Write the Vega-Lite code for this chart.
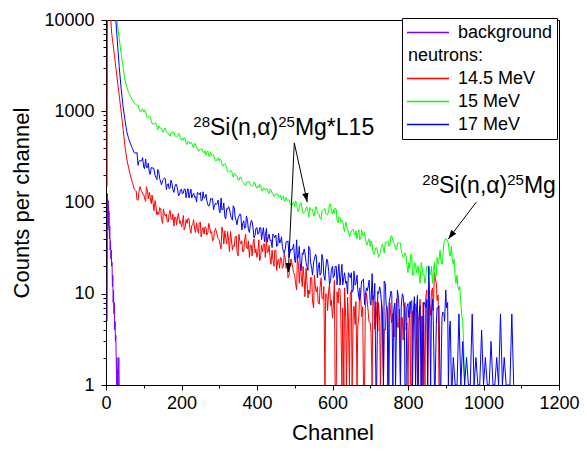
{
"$schema": "https://vega.github.io/schema/vega-lite/v6.json",
"width": 453, "height": 365, "autosize": "none",
"padding": {"left": 106, "top": 20, "right": 28, "bottom": 68},
"background": "white",
"config": {
 "font": "Liberation Sans",
 "view": {"stroke": "black", "strokeWidth": 1},
 "axis": {"grid": false, "domainColor": "black", "tickColor": "black", "labelColor": "black", "titleColor": "black", "labelFont": "Liberation Sans", "titleFont": "Liberation Sans", "labelFontSize": 18, "titleFontSize": 22, "titleFontWeight": "normal", "tickWidth": 1, "domainWidth": 1, "labelOverlap": false, "labelFlush": false}
},
"datasets": {
"spec": [
{"c":3,"p":5,"r":150},{"c":4,"p":125,"r":30000},{"c":5,"p":50,"r":30000,"g":30000,"b":30000},{"c":6,"p":105},{"c":7,"p":55},{"c":8,"p":80},{"c":9,"p":40},
{"c":10,"p":55,"r":15000,"g":30000,"b":30000},{"c":11,"p":30},{"c":12,"p":38},{"c":13,"p":24},{"c":14,"p":30},
{"c":15,"p":20,"r":7200,"g":30000,"b":30000},{"c":16,"p":22},{"c":17,"p":12},{"c":18,"p":16},{"c":19,"p":8},
{"c":20,"p":11,"r":4900,"g":25000,"b":22000},{"c":21,"p":6},{"c":22,"p":8},{"c":23,"p":4},{"c":24,"p":5},
{"c":25,"p":3,"r":3300,"g":14000,"b":11500},{"c":26,"p":3.5},{"c":27,"p":2},{"c":28,"p":1},{"c":29,"p":2},
{"c":30,"p":1,"r":2200,"g":9300,"b":5900},{"c":31,"p":1.5},{"c":32,"p":1},{"c":34,"p":2},
{"c":35,"p":1,"r":1500,"g":6300,"b":3100},
{"c":40,"r":1000,"g":4300,"b":1780},{"c":45,"r":650,"g":3100,"b":1150},{"c":50,"r":420,"g":2200,"b":810},{"c":55,"r":300,"g":1850,"b":600},
{"c":60,"r":240,"g":1600,"b":500},{"c":65,"r":195,"g":1450,"b":440},{"c":70,"r":165,"g":1320,"b":390},{"c":75,"r":140,"g":1230,"b":350},
{"c":80,"r":134,"g":1179,"b":348},{"c":85,"r":106,"g":1174,"b":255},{"c":90,"r":149,"g":995,"b":291},{"c":95,"r":131,"g":1046,"b":290},
{"c":100,"r":122,"g":976,"b":243},{"c":105,"r":103,"g":984,"b":300},{"c":110,"r":133,"g":841,"b":242},{"c":115,"r":129,"g":896,"b":209},
{"c":120,"r":97,"g":790,"b":242},{"c":125,"r":97,"g":725,"b":240},{"c":130,"r":105,"g":744,"b":198},{"c":135,"r":73,"g":684,"b":178},
{"c":140,"r":74,"g":693,"b":216},{"c":145,"r":85,"g":655,"b":167},{"c":150,"r":59,"g":591,"b":173},{"c":155,"r":74,"g":650,"b":186},
{"c":160,"r":75,"g":595,"b":138},{"c":165,"r":61,"g":573,"b":161},{"c":170,"r":82,"g":535,"b":145},{"c":175,"r":65,"g":588,"b":160},
{"c":180,"r":55,"g":587,"b":129},{"c":185,"r":68,"g":530,"b":159},{"c":190,"r":71,"g":540,"b":136},{"c":195,"r":59,"g":560,"b":123},
{"c":200,"r":54,"g":482,"b":140},{"c":205,"r":72,"g":483,"b":127},{"c":210,"r":54,"g":504,"b":140},{"c":215,"r":59,"g":432,"b":131},
{"c":220,"r":66,"g":462,"b":112},{"c":225,"r":46,"g":455,"b":140},{"c":230,"r":57,"g":408,"b":121},{"c":235,"r":51,"g":447,"b":114},
{"c":240,"r":60,"g":397,"b":101},{"c":245,"r":46,"g":364,"b":126},{"c":250,"r":61,"g":384,"b":129},{"c":255,"r":51,"g":383,"b":106},
{"c":260,"r":45,"g":349,"b":111},{"c":265,"r":53,"g":331,"b":123},{"c":270,"r":47,"g":366,"b":94},{"c":275,"r":53,"g":321,"b":97},
{"c":280,"r":48,"g":328,"b":109},{"c":285,"r":39,"g":335,"b":83},{"c":290,"r":52,"g":288,"b":98},{"c":295,"r":43,"g":305,"b":99},
{"c":300,"r":39,"g":283,"b":81},{"c":305,"r":31,"g":289,"b":112},{"c":310,"r":46,"g":250,"b":84},{"c":315,"r":49,"g":267,"b":69},
{"c":320,"r":35,"g":235,"b":86},{"c":325,"r":38,"g":217,"b":90},{"c":330,"r":48,"g":224,"b":73},{"c":335,"r":30,"g":206,"b":64},
{"c":340,"r":33,"g":210,"b":87},{"c":345,"r":43,"g":198,"b":63},{"c":350,"r":26,"g":176,"b":68},{"c":355,"r":37,"g":190,"b":75},
{"c":360,"r":38,"g":173,"b":50},{"c":365,"r":29,"g":165,"b":63},{"c":370,"r":45,"g":153,"b":54},{"c":375,"r":31,"g":169,"b":63},
{"c":380,"r":25,"g":169,"b":47},{"c":385,"r":34,"g":153,"b":64},{"c":390,"r":37,"g":156,"b":51},{"c":395,"r":28,"g":164,"b":44},
{"c":400,"r":25,"g":144,"b":53},{"c":405,"r":39,"g":146,"b":46},{"c":410,"r":26,"g":155,"b":53},{"c":415,"r":29,"g":133,"b":48},
{"c":420,"r":35,"g":142,"b":37},{"c":425,"r":42,"g":142,"b":52},{"c":430,"r":29,"g":128,"b":42},{"c":435,"r":24,"g":141,"b":38},
{"c":440,"r":30,"g":126,"b":32},{"c":445,"r":20,"g":116,"b":43},{"c":450,"r":30,"g":124,"b":44},{"c":455,"r":23,"g":124,"b":34},
{"c":460,"r":19,"g":113,"b":36},{"c":465,"r":24,"g":107,"b":42},{"c":470,"r":20,"g":118,"b":29},{"c":475,"r":24,"g":104,"b":31},
{"c":480,"r":21,"g":106,"b":37},{"c":485,"r":16,"g":108,"b":25},{"c":490,"r":24,"g":93,"b":31},{"c":495,"r":19,"g":99,"b":32},
{"c":500,"r":16,"g":90,"b":23},{"c":505,"r":11,"g":99,"b":39},{"c":510,"r":20,"g":79,"b":26},{"c":515,"r":21,"g":99,"b":19},
{"c":520,"r":12,"g":85,"b":28},{"c":525,"r":14,"g":78,"b":31},{"c":530,"r":19,"g":87,"b":22},{"c":535,"r":9,"g":80,"b":18},
{"c":540,"r":10,"g":88,"b":31},{"c":545,"r":15,"g":83,"b":19},{"c":550,"r":7,"g":71,"b":22},{"c":555,"r":11.5,"g":89,"b":27},
{"c":560,"r":12,"g":77,"b":15},{"c":565,"r":7.7,"g":74,"b":22},{"c":570,"r":15,"g":66,"b":17},{"c":575,"r":8.7,"g":82,"b":23},
{"c":580,"r":1,"g":86,"b":14},{"c":585,"r":9.8,"g":74,"b":24},{"c":590,"r":11,"g":82,"b":17.6},{"c":595,"r":7.4,"g":96,"b":14},
{"c":600,"r":5.4,"g":75,"b":20},{"c":605,"r":14,"g":76,"b":16},{"c":610,"r":1,"g":84,"b":20},{"c":615,"r":7.9,"g":60,"b":17.6},
{"c":620,"r":11.3,"g":68,"b":12.4},{"c":625,"r":1,"g":64,"b":21},{"c":630,"r":1,"g":52,"b":15},{"c":635,"r":5.6,"g":61,"b":13},
{"c":640,"r":9.2,"g":49,"b":9.9},{"c":645,"r":1,"g":42,"b":16},{"c":650,"r":10.9,"g":49,"b":17},{"c":655,"r":6.4,"g":51,"b":11},
{"c":660,"r":4.6,"g":44,"b":12.4},{"c":665,"r":1,"g":40,"b":16},{"c":670,"r":5.7,"g":50,"b":9.1},{"c":675,"r":8.8,"g":40,"b":10.3},
{"c":680,"r":7.2,"g":44,"b":14},{"c":685,"r":1,"g":47,"b":7.6},{"c":690,"r":10.2,"g":35,"b":11.6},{"c":695,"r":6,"g":39,"b":12.2},
{"c":700,"r":4.8,"g":33,"b":7.9},{"c":705,"r":1,"g":35,"b":16.6},{"c":710,"r":7.3,"g":27,"b":9.2},{"c":715,"r":8.2,"g":32,"b":1},
{"c":720,"r":3.9,"g":28,"b":10.6},{"c":725,"r":5,"g":27,"b":11.9},{"c":730,"r":8.4,"g":33,"b":7.7},{"c":735,"r":1,"g":32,"b":1},
{"c":740,"r":4,"g":37,"b":12.8},{"c":745,"r":7.2,"g":37,"b":6.5},{"c":750,"r":1,"g":33,"b":8.1},{"c":755,"r":5.5,"g":43,"b":10.7},
{"c":760,"r":6.1,"g":38,"b":1},{"c":765,"r":3.4,"g":35,"b":7.9},{"c":770,"r":8.8,"g":30,"b":6},{"c":775,"r":4.3,"g":36,"b":8.9},
{"c":780,"r":1,"g":36,"b":1},{"c":785,"r":5.5,"g":27,"b":10},{"c":790,"r":6.6,"g":26,"b":6.6},{"c":795,"r":4,"g":26,"b":1},
{"c":800,"r":1,"g":17,"b":7.8},{"c":805,"r":8.2,"g":19,"b":6},{"c":810,"r":1,"g":26,"b":8.4},{"c":815,"r":5.1,"g":16,"b":7.2},
{"c":820,"r":7.7,"g":21,"b":1},{"c":825,"r":1,"g":20,"b":9.6},{"c":830,"r":5.9,"g":15,"b":6.3},{"c":835,"r":1,"g":22,"b":1},
{"c":840,"r":8,"g":16,"b":1},{"c":845,"r":1,"g":13,"b":7.7},{"c":850,"r":11,"g":20,"b":8.6},{"c":855,"r":7,"g":20,"b":20},
{"c":860,"r":5.8,"g":16,"b":1},{"c":865,"r":11.6,"g":13,"b":8.7},{"c":870,"r":17,"g":22,"b":1},{"c":875,"r":13,"g":16,"b":4.6},
{"c":880,"r":9.7,"g":21,"b":7},{"c":885,"r":1,"g":30,"b":1},{"c":890,"g":21,"b":5.5},{"c":895,"g":36,"b":6.1},
{"c":900,"g":40,"b":11},{"c":905,"g":37,"b":8},{"c":910,"g":26,"b":4.3},{"c":915,"g":33,"b":1},
{"c":920,"g":21,"b":2},{"c":925,"g":15,"b":1},{"c":930,"g":16,"b":1},{"c":935,"g":11,"b":6},
{"c":940,"g":8,"b":1},{"c":945,"g":5,"b":3},{"c":950,"g":1,"b":1},{"c":955,"b":2},
{"c":960,"b":1},{"c":965,"b":1},{"c":970,"b":6},{"c":975,"b":1},{"c":980,"b":2},{"c":985,"b":1},
{"c":990,"b":1},{"c":995,"b":4},{"c":1000,"b":1},{"c":1005,"b":2},{"c":1010,"b":1},{"c":1015,"b":1},
{"c":1020,"b":3},{"c":1025,"b":1},{"c":1030,"b":1},{"c":1035,"b":2},{"c":1040,"b":1},{"c":1045,"b":6},
{"c":1050,"b":1},{"c":1055,"b":2},{"c":1060,"b":1},{"c":1065,"b":1},{"c":1070,"b":1},{"c":1075,"b":6},{"c":1080,"b":1},
{"c":82,"r":107,"g":1159,"b":354},{"c":87,"r":128,"g":1073,"b":281},{"c":92,"r":140,"g":981,"b":282},{"c":97,"r":123,"g":1060,"b":310},
{"c":102,"r":112,"g":1037,"b":235},{"c":107,"r":149,"g":895,"b":243},{"c":112,"r":110,"g":870,"b":271},{"c":117,"r":114,"g":875,"b":203},
{"c":122,"r":121,"g":733,"b":238},{"c":127,"r":81,"g":723,"b":233},{"c":132,"r":93,"g":743,"b":189},{"c":137,"r":79,"g":626,"b":230},
{"c":142,"r":88,"g":662,"b":184},{"c":147,"r":65,"g":653,"b":156},{"c":152,"r":85,"g":589,"b":179},{"c":157,"r":71,"g":649,"b":183},
{"c":162,"r":62,"g":582,"b":155},{"c":167,"r":74,"g":543,"b":142},{"c":172,"r":66,"g":585,"b":176},{"c":177,"r":75,"g":589,"b":139},
{"c":182,"r":69,"g":543,"b":146},{"c":187,"r":57,"g":519,"b":157},{"c":192,"r":76,"g":574,"b":118},{"c":197,"r":63,"g":502,"b":137},
{"c":202,"r":58,"g":508,"b":125},{"c":207,"r":50,"g":517,"b":140},{"c":212,"r":65,"g":442,"b":113},{"c":217,"r":67,"g":470,"b":142},
{"c":222,"r":52,"g":438,"b":123},{"c":227,"r":56,"g":452,"b":112},{"c":232,"r":65,"g":397,"b":127},{"c":237,"r":47,"g":434,"b":116},
{"c":242,"r":51,"g":395,"b":129},{"c":247,"r":60,"g":368,"b":122},{"c":252,"r":42,"g":383,"b":104},{"c":257,"r":53,"g":358,"b":131},
{"c":262,"r":54,"g":370,"b":113},{"c":267,"r":44,"g":352,"b":105},{"c":272,"r":59,"g":321,"b":91},{"c":277,"r":46,"g":354,"b":111},
{"c":282,"r":38,"g":325,"b":111},{"c":287,"r":47,"g":309,"b":91},{"c":292,"r":49,"g":285,"b":95},{"c":297,"r":40,"g":308,"b":106},
{"c":302,"r":35,"g":302,"b":77},{"c":307,"r":54,"g":264,"b":83},{"c":312,"r":35,"g":259,"b":99},{"c":317,"r":41,"g":260,"b":66},
{"c":322,"r":48,"g":218,"b":84},{"c":327,"r":29,"g":217,"b":85},{"c":332,"r":40,"g":224,"b":68},{"c":337,"r":34,"g":189,"b":92},
{"c":342,"r":42,"g":200,"b":69},{"c":347,"r":29,"g":196,"b":57},{"c":352,"r":45,"g":175,"b":71},{"c":357,"r":35,"g":190,"b":73},
{"c":362,"r":29,"g":169,"b":59},{"c":367,"r":38,"g":157,"b":52},{"c":372,"r":32,"g":168,"b":71},{"c":377,"r":38,"g":169,"b":51},
{"c":382,"r":34,"g":156,"b":56},{"c":387,"r":26,"g":150,"b":62},{"c":392,"r":40,"g":167,"b":41},{"c":397,"r":31,"g":148,"b":52},
{"c":402,"r":28,"g":152,"b":45},{"c":407,"r":23,"g":158,"b":53},{"c":412,"r":34,"g":136,"b":39},{"c":417,"r":35,"g":144,"b":53},
{"c":422,"r":25,"g":136,"b":43},{"c":427,"r":28,"g":141,"b":37},{"c":432,"r":34,"g":125,"b":45},{"c":437,"r":21,"g":138,"b":39},
{"c":442,"r":24,"g":126,"b":45},{"c":447,"r":30,"g":118,"b":41},{"c":452,"r":18,"g":124,"b":33},{"c":457,"r":24,"g":116,"b":46},
{"c":462,"r":25,"g":120,"b":37},{"c":467,"r":19,"g":114,"b":33},{"c":472,"r":28,"g":104,"b":28},{"c":477,"r":19,"g":114,"b":37},
{"c":482,"r":15,"g":105,"b":38},{"c":487,"r":21,"g":99,"b":28},{"c":492,"r":22,"g":92,"b":30},{"c":497,"r":17,"g":100,"b":35},
{"c":502,"r":13,"g":104,"b":22},{"c":507,"r":26,"g":84,"b":24},{"c":512,"r":13,"g":88,"b":33},{"c":517,"r":16,"g":98,"b":18},
{"c":522,"r":20,"g":76,"b":27},{"c":527,"r":9.3,"g":79,"b":28},{"c":532,"r":14,"g":90,"b":20},{"c":537,"r":11,"g":69,"b":33},
{"c":542,"r":15,"g":83,"b":22},{"c":547,"r":8.3,"g":84,"b":16},{"c":552,"r":16,"g":72,"b":24},{"c":557,"r":10.5,"g":90,"b":26},
{"c":562,"r":7.9,"g":75,"b":19},{"c":567,"r":11.7,"g":67,"b":16},{"c":572,"r":9,"g":80,"b":27},{"c":577,"r":12,"g":84,"b":16},
{"c":582,"r":10,"g":76,"b":19},{"c":587,"r":6.5,"g":73,"b":23},{"c":592,"r":12.6,"g":96,"b":12.6},{"c":597,"r":8.5,"g":79,"b":18.5},
{"c":602,"r":7,"g":84,"b":15},{"c":607,"r":1,"g":87,"b":20},{"c":612,"r":10.5,"g":64,"b":12.5},{"c":617,"r":11.6,"g":70,"b":21},
{"c":622,"r":5.6,"g":61,"b":15.4},{"c":627,"r":7,"g":63,"b":12.5},{"c":632,"r":11.6,"g":48,"b":17},{"c":637,"r":1,"g":58,"b":13.7},
{"c":642,"r":5.5,"g":49,"b":17},{"c":647,"r":9.7,"g":44,"b":15},{"c":652,"r":1,"g":50,"b":10.4},{"c":657,"r":7.3,"g":45,"b":17.7},
{"c":662,"r":8.2,"g":49,"b":12.9},{"c":667,"r":4.5,"g":46,"b":11.2},{"c":672,"r":11.6,"g":39,"b":8.5},{"c":677,"r":5.6,"g":50,"b":13.8},
{"c":682,"r":1,"g":43,"b":14.5},{"c":687,"r":7,"g":40,"b":9.5},{"c":692,"r":8.4,"g":34,"b":10.8},{"c":697,"r":4.9,"g":40,"b":14.1},
{"c":702,"r":3.7,"g":38,"b":7.5},{"c":707,"r":9.6,"g":29,"b":8.6},{"c":712,"r":4.1,"g":29,"b":13},{"c":717,"r":5.5,"g":32,"b":1},
{"c":722,"r":8,"g":25,"b":10},{"c":727,"r":1,"g":29,"b":10.8},{"c":732,"r":5.7,"g":35,"b":6.6},{"c":737,"r":4.1,"g":28,"b":13.8},
{"c":742,"r":6.8,"g":36,"b":7.7},{"c":747,"r":1,"g":38,"b":1},{"c":752,"r":8,"g":34,"b":9},{"c":757,"r":4.8,"g":43,"b":10},
{"c":762,"r":3.4,"g":36,"b":6.6},{"c":767,"r":6.1,"g":31,"b":1},{"c":772,"r":4.3,"g":36,"b":11},{"c":777,"r":6.8,"g":36,"b":5.6},
{"c":782,"r":5.5,"g":30,"b":7.2},{"c":787,"r":3.1,"g":25,"b":9.6},{"c":792,"r":8,"g":28,"b":1},{"c":797,"r":4.8,"g":21,"b":7.2},
{"c":802,"r":4,"g":22,"b":5.5},{"c":807,"r":1,"g":27,"b":8.1},{"c":812,"r":6.5,"g":16,"b":1},{"c":817,"r":7.5,"g":22,"b":9.3},
{"c":822,"r":3.8,"g":17,"b":6.1},{"c":827,"r":5,"g":20,"b":1},{"c":832,"r":8.7,"g":13,"b":7.4},{"c":837,"r":1,"g":20,"b":5.7},
{"c":842,"r":4.8,"g":16.5,"b":8.1},{"c":847,"r":9.1,"g":15,"b":7},{"c":852,"r":1,"g":20,"b":1},{"c":857,"r":8,"g":16.5,"b":9.5},
{"c":862,"r":10.4,"g":20,"b":6.3},{"c":867,"r":6.5,"g":18,"b":5.1},{"c":872,"r":15,"g":14.6,"b":1},{"c":877,"r":8.4,"g":25,"b":7},
{"c":882,"r":1,"g":23,"b":7.4},{"c":887,"g":24,"b":1},{"c":892,"g":24,"b":6.3},{"c":897,"g":38,"b":5},
{"c":902,"g":40,"b":7},{"c":907,"g":36,"b":1},{"c":912,"g":26,"b":5},{"c":917,"g":24,"b":1},
{"c":922,"g":24},{"c":927,"g":13},{"c":932,"g":12},{"c":937,"g":12},{"c":942,"g":6},{"c":947,"g":3}
],
"arrows": [
{"c":498.8,"v":449,"c2":482.9,"v2":17.3},
{"c":498.8,"v":449,"c2":533.2,"v2":101},
{"c":980.9,"v":101,"c2":906.8,"v2":39.8}
],
"heads": [
{"id":"a","c":482.9,"v":17.3},
{"id":"b","c":533.2,"v":101},
{"id":"c","c":906.8,"v":39.8}
],
"main": [
{"c":275.5,"v":550,"t":"Si(n,α)"},
{"c":500.4,"v":550,"t":"Mg*L15"},
{"c":882.1,"v":127,"t":"Si(n,α)"},
{"c":1107,"v":127,"t":"Mg"}
],
"sup": [
{"c":231.3,"v":550,"t":"28"},
{"c":456.2,"v":550,"t":"25"},
{"c":837.9,"v":127,"t":"28"},
{"c":1062.8,"v":127,"t":"25"}
]
},
"encoding": {
 "x": {"field": "c", "type": "quantitative", "title": "Channel",
   "scale": {"domain": [0, 1200], "nice": false, "zero": false},
   "axis": {"values": [0,100,200,300,400,500,600,700,800,900,1000,1100,1200], "format": "d",
     "labelExpr": "datum.value % 200 == 0 ? datum.label : ''",
     "tickSize": {"condition": {"test": "datum.value % 200 == 0", "value": 5}, "value": 3},
     "labelPadding": 4, "titlePadding": 10}},
 "y": {"field": "v", "type": "quantitative", "title": "Counts per channel",
   "scale": {"type": "log", "domain": [1, 10000], "nice": false},
   "axis": {"values": [1,2,3,4,5,6,7,8,9,10,20,30,40,50,60,70,80,90,100,200,300,400,500,600,700,800,900,1000,2000,3000,4000,5000,6000,7000,8000,9000,10000],
     "format": "d",
     "labelExpr": "(datum.value==1||datum.value==10||datum.value==100||datum.value==1000||datum.value==10000) ? datum.label : ''",
     "tickSize": {"condition": {"test": "datum.value==1||datum.value==10||datum.value==100||datum.value==1000||datum.value==10000", "value": 5}, "value": 3},
     "labelPadding": 7, "titlePadding": 10}}
},
"layer": [
 {
  "data": {"name": "spec"},
  "transform": [{"fold": ["p", "r", "g", "b"], "as": ["k", "v"]}, {"filter": "isValid(datum.v)"}],
  "encoding": {
   "color": {"field": "k", "type": "nominal",
    "scale": {"domain": ["p", "n", "r", "g", "b"], "range": ["#8000ff", "rgba(0,0,0,0)", "#ff0000", "#00ff00", "#0000ff"]},
    "legend": {"orient": "none", "legendX": 296, "legendY": -2, "title": null,
      "symbolType": "stroke", "symbolSize": 1764, "symbolStrokeWidth": 1.6, "clipHeight": 21,
      "labelFontSize": 18, "labelFont": "Liberation Sans", "labelColor": "black", "labelOffset": 8,
      "rowPadding": 2, "padding": 4, "strokeColor": "black", "fillColor": "white", "labelLimit": 0,
      "labelExpr": "datum.value=='p'?'background':datum.value=='n'?'neutrons:':datum.value=='r'?'14.5 MeV':datum.value=='g'?'15 MeV':'17 MeV'",
      "encode": {"labels": {"update": {"dx": {"signal": "datum.value=='n' ? -50 : 0"}}}}}}
  },
  "layer": [
   {"transform": [{"filter": "datum.k=='p'"}], "mark": {"type": "line", "strokeWidth": 1, "clip": true}},
   {"transform": [{"filter": "datum.k=='r'"}], "mark": {"type": "line", "strokeWidth": 1, "clip": true}},
   {"transform": [{"filter": "datum.k=='g'"}], "mark": {"type": "line", "strokeWidth": 1, "clip": true}},
   {"transform": [{"filter": "datum.k=='b'"}], "mark": {"type": "line", "strokeWidth": 1, "clip": true}}
  ]
 },
 {
  "data": {"name": "arrows"},
  "mark": {"type": "rule", "color": "black", "strokeWidth": 1},
  "encoding": {"x2": {"field": "c2"}, "y2": {"field": "v2"}}
 },
 {
  "data": {"name": "heads"},
  "transform": [{"filter": "datum.id=='a'"}],
  "mark": {"type": "point", "shape": "M0,0L-0.35,-1L0.35,-1Z", "filled": true, "color": "black", "opacity": 1, "size": 324, "angle": 2.7}
 },
 {
  "data": {"name": "heads"},
  "transform": [{"filter": "datum.id=='b'"}],
  "mark": {"type": "point", "shape": "M0,0L-0.35,-1L0.35,-1Z", "filled": true, "color": "black", "opacity": 1, "size": 324, "angle": -12.4}
 },
 {
  "data": {"name": "heads"},
  "transform": [{"filter": "datum.id=='c'"}],
  "mark": {"type": "point", "shape": "M0,0L-0.35,-1L0.35,-1Z", "filled": true, "color": "black", "opacity": 1, "size": 324, "angle": 37.1}
 },
 {
  "data": {"name": "main"},
  "mark": {"type": "text", "fontSize": 23, "align": "left", "baseline": "alphabetic", "font": "Liberation Sans", "color": "black"},
  "encoding": {"text": {"field": "t"}}
 },
 {
  "data": {"name": "sup"},
  "mark": {"type": "text", "fontSize": 15, "align": "left", "baseline": "alphabetic", "dy": -8, "font": "Liberation Sans", "color": "black"},
  "encoding": {"text": {"field": "t"}}
 }
]
}
